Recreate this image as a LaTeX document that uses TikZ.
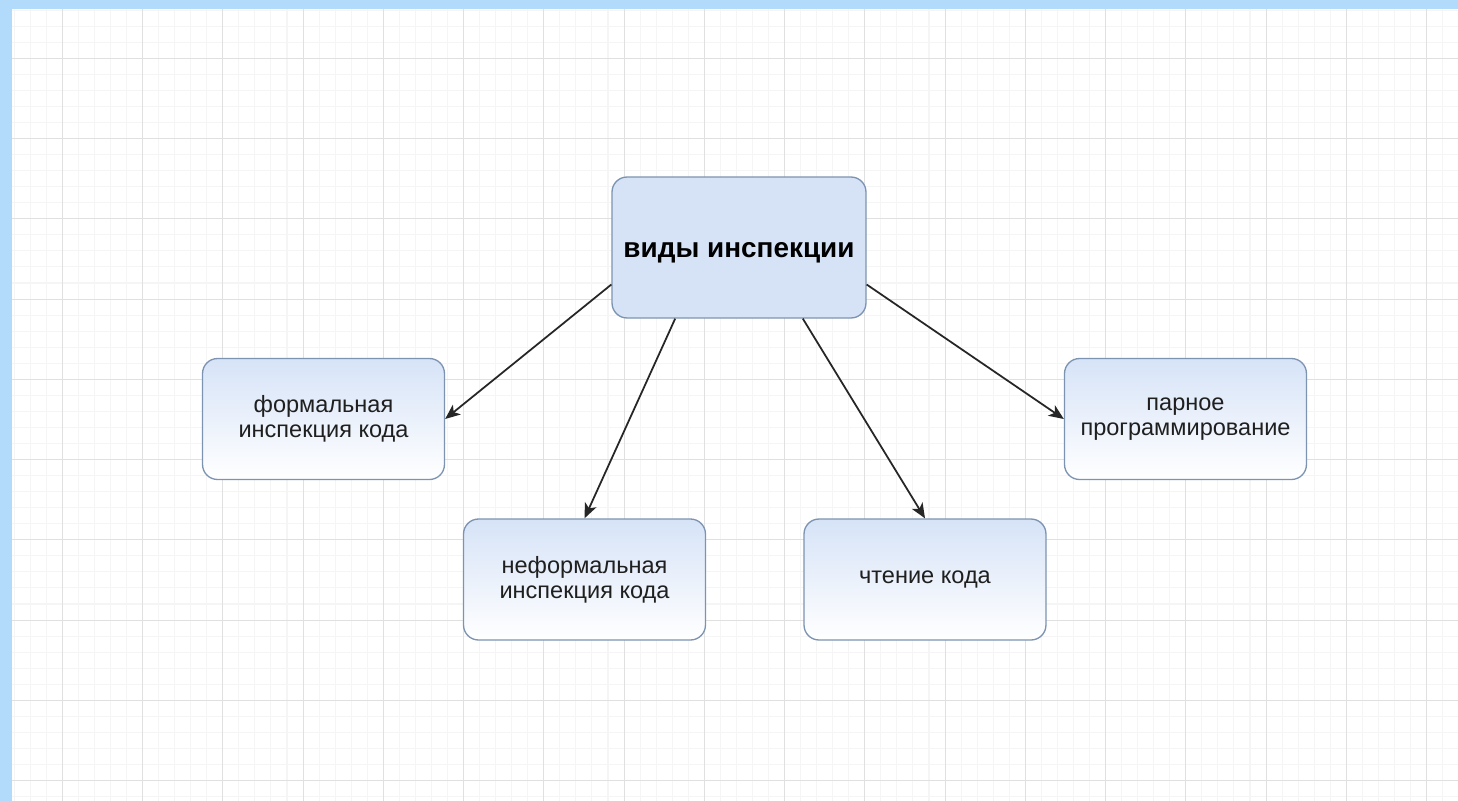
\documentclass[tikz,border=0pt]{standalone}
\usepackage{fontspec}
\setmainfont{Liberation Sans}
\usetikzlibrary{arrows.meta,calc}

\definecolor{pageblue}{HTML}{B2DAFB}
\definecolor{gridmajor}{HTML}{E0E0E0}
\definecolor{gridminor}{HTML}{F5F5F5}
\definecolor{boxfill}{HTML}{D6E3F7}
\definecolor{boxline}{HTML}{7D93B2}

\begin{document}
\begin{tikzpicture}[x=0.02cm, y=-0.02cm,
    kind/.style ={rectangle, rounded corners=0.3cm, draw=boxline, line width=0.75pt,
      top color=boxfill, bottom color=white, minimum width=4.84cm, minimum height=2.42cm,
      align=center, text=black!88, font=\fontsize{13.4}{14.2}\selectfont},
    root/.style ={rectangle, rounded corners=0.3cm, draw=boxline, line width=0.75pt,
      fill=boxfill, minimum width=5.08cm, minimum height=2.82cm,
      font=\fontsize{15.9}{18}\selectfont\bfseries},
    link/.style ={-{Stealth[length=0.3cm,width=0.25cm,inset=0.08cm]}, line width=1pt, black!85}]
   % page and grid
   \fill[pageblue] (0,0) rectangle (1458,801);
   \fill[white] (12,9) rectangle (1458,801);
   \useasboundingbox (0,0) rectangle (1458,801);
   \foreach \i in {0,...,89}
      \draw[gridminor, line width=0.6pt] (14.15+\i*16.05,9) -- (14.15+\i*16.05,801);
   \foreach \i in {0,...,49}
      \draw[gridminor, line width=0.6pt] (12,10.15+\i*16.05) -- (1458,10.15+\i*16.05);
   \foreach \i in {0,...,17}
      \draw[gridmajor, line width=0.6pt] (62.3+\i*80.25,9) -- (62.3+\i*80.25,801);
   \foreach \i in {0,...,9}
      \draw[gridmajor, line width=0.6pt] (12,58.3+\i*80.25) -- (1458,58.3+\i*80.25);
   % boxes
   \node[root] (A) at (739,247.5) {\raisebox{-0.19cm}[0pt][0pt]{виды инспекции}};
   \node[kind] (B) at (323.5,419) {формальная\\инспекция кода};
   \node[kind] (C) at (584.5,579.5) {неформальная\\инспекция кода};
   \node[kind] (D) at (925,579.5) {чтение кода};
   \node[kind] (E) at (1185.5,419) {парное\\программирование};
   % arrows
   \draw[link] ($(A.south west)!0.24!(A.north west)$) -- (B.east);
   \draw[link] ($(A.south west)!0.25!(A.south east)$) -- (C.north);
   \draw[link] ($(A.south west)!0.75!(A.south east)$) -- (D.north);
   \draw[link] ($(A.south east)!0.24!(A.north east)$) -- (E.west);
\end{tikzpicture}
\end{document}
